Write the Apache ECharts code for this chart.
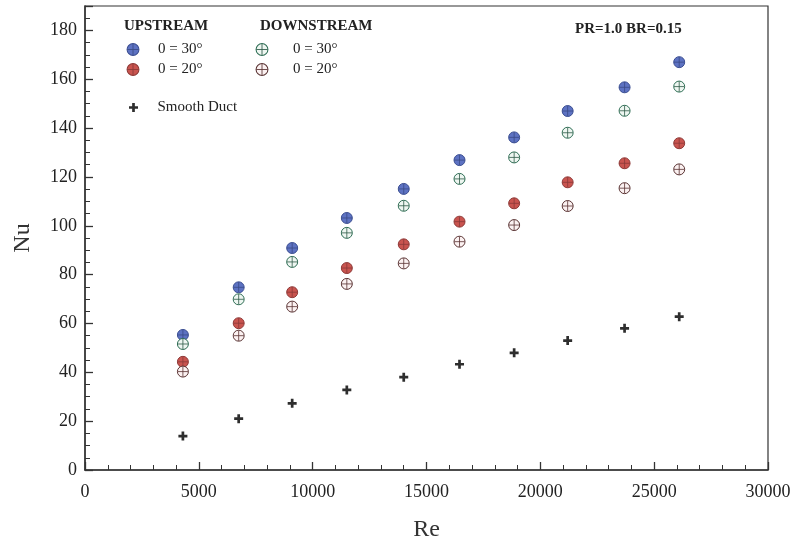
<!DOCTYPE html>
<html>
<head>
<meta charset="utf-8">
<script src="https://cdn.jsdelivr.net/npm/echarts@6/dist/echarts.min.js"></script>
<style>
  html, body { margin: 0; padding: 0; background: #ffffff; }
  #chart { width: 793px; height: 545px; }
</style>
</head>
<body>
<div id="chart"></div>
<script>
// Reynolds numbers of the test points
const reynolds = [4300, 6750, 9100, 11500, 14000, 16450, 18850, 21200, 23700, 26100];

// Nusselt numbers, rib placed upstream / downstream, two rib angles
const upstream30   = [55.3, 74.8, 90.9, 103.2, 115.1, 126.9, 136.2, 147.0, 156.7, 167.0];
const upstream20   = [44.3, 60.1, 72.8, 82.7, 92.4, 101.7, 109.2, 117.8, 125.6, 133.8];
const downstream30 = [51.6, 69.9, 85.2, 97.1, 108.2, 119.2, 128.0, 138.1, 147.1, 157.0];
const downstream20 = [40.3, 55.0, 66.9, 76.2, 84.6, 93.5, 100.3, 108.1, 115.4, 123.1];
const smoothDuct   = [13.9, 21.0, 27.3, 32.8, 38.0, 43.3, 48.0, 53.0, 58.0, 62.8];

// Axis ticks
const xTicks = { min: 0, max: 30000, step: 5000 };
const yTicks = { min: 0, max: 190, step: 20 };

const labels = {
  up30: '0 = 30°',
  up20: '0 = 20°',
  dn30: '0 = 30°',
  dn20: '0 = 20°',
  smooth: 'Smooth Duct'
};

const SERIF = '"Liberation Serif", "DejaVu Serif", serif';

// Circle-with-crosshair marker drawn as a small SVG
function crossCircle(fill, stroke, cross) {
  const svg =
    '<svg xmlns="http://www.w3.org/2000/svg" width="26" height="26" viewBox="0 0 26 26">' +
    '<circle cx="13" cy="13" r="11" fill="' + fill + '" stroke="' + stroke + '" stroke-width="2"/>' +
    '<line x1="13" y1="2.5" x2="13" y2="23.5" stroke="' + cross + '" stroke-width="1.6"/>' +
    '<line x1="2.5" y1="13" x2="23.5" y2="13" stroke="' + cross + '" stroke-width="1.6"/>' +
    '</svg>';
  return 'image://data:image/svg+xml;charset=utf-8,' + encodeURIComponent(svg);
}

const symUp30 = crossCircle('#5d72c2', '#3c4f92', '#3a4a86');
const symUp20 = crossCircle('#c9544f', '#8e3a38', '#8a3a38');
const symDn30 = crossCircle('#eef6f1', '#2f6e55', '#2f5a48');
const symDn20 = crossCircle('#fbf1f1', '#5a3434', '#5a3434');
const symPlus = 'path://M3.5,0H6.5V3.5H10V6.5H6.5V10H3.5V6.5H0V3.5H3.5Z';

function pairs(ys) {
  return reynolds.map((re, i) => [re, ys[i]]);
}

function scatter(key, ys, symbol, size) {
  return {
    name: key,
    type: 'scatter',
    data: pairs(ys),
    symbol: symbol,
    symbolSize: size,
    itemStyle: { color: '#2e2e2e', opacity: 1 },
    emphasis: { disabled: true },
    z: 3
  };
}

const legendText = {
  fontFamily: SERIF,
  fontSize: 15,
  color: '#222222'
};

const headerText = { fontFamily: SERIF, fontSize: 15, fontWeight: 'bold', color: '#222' };

const chart = echarts.init(document.getElementById('chart'), null, { renderer: 'canvas' });

chart.setOption({
  animation: false,
  backgroundColor: '#ffffff',
  grid: {
    left: 85, right: 25, top: 6, bottom: 75,
    outerBoundsMode: 'none',
    containLabel: false,
    show: true,
    borderColor: '#333333',
    borderWidth: 1.2,
    backgroundColor: 'transparent'
  },
  title: [
    { text: 'UPSTREAM', left: 119, top: 14, textStyle: headerText },
    { text: 'DOWNSTREAM', left: 255, top: 14, textStyle: headerText },
    { text: 'PR=1.0 BR=0.15', left: 570, top: 17, textStyle: headerText }
  ],
  legend: [
    {
      data: ['up30', 'up20'],
      orient: 'vertical', left: 108, top: 37,
      itemWidth: 40, itemHeight: 14, itemGap: 5,
      symbolKeepAspect: true,
      selectedMode: false,
      formatter: n => labels[n],
      textStyle: legendText
    },
    {
      data: ['dn30', 'dn20'],
      orient: 'vertical', left: 231, top: 37,
      itemWidth: 52, itemHeight: 14, itemGap: 5,
      symbolKeepAspect: true,
      selectedMode: false,
      formatter: n => labels[n],
      textStyle: legendText
    },
    {
      data: ['smooth'],
      orient: 'vertical', left: 124, top: 95,
      itemWidth: 38, itemHeight: 9,
      symbolKeepAspect: true,
      selectedMode: false,
      formatter: n => labels[n],
      textStyle: legendText
    }
  ],
  xAxis: {
    type: 'value',
    min: xTicks.min, max: xTicks.max, interval: xTicks.step,
    name: 'Re',
    nameLocation: 'middle',
    nameGap: 48,
    nameTextStyle: { fontFamily: SERIF, fontSize: 24, color: '#333' },
    axisLine: { show: true, lineStyle: { color: '#333333', width: 1.5 } },
    axisTick: { show: true, inside: true, length: 8, lineStyle: { color: '#333', width: 1.3 } },
    minorTick: { show: true, splitNumber: 5, length: 5, lineStyle: { color: '#333', width: 1 } },
    axisLabel: {
      fontFamily: SERIF, fontSize: 18, color: '#222', margin: 13,
      formatter: v => String(v)
    },
    splitLine: { show: false }
  },
  yAxis: {
    type: 'value',
    min: yTicks.min, max: yTicks.max, interval: yTicks.step,
    name: 'Nu',
    nameLocation: 'middle',
    nameGap: 50,
    nameRotate: 90,
    nameTextStyle: { fontFamily: SERIF, fontSize: 24, color: '#333' },
    axisLine: { show: true, lineStyle: { color: '#333333', width: 1.5 } },
    axisTick: { show: true, inside: true, length: 8, lineStyle: { color: '#333', width: 1.3 } },
    minorTick: { show: true, splitNumber: 4, length: 5, lineStyle: { color: '#333', width: 1 } },
    axisLabel: {
      fontFamily: SERIF, fontSize: 18, color: '#222', margin: 8,
      showMaxLabel: false,
      formatter: v => String(v)
    },
    splitLine: { show: false }
  },
  series: [
    scatter('up30', upstream30, symUp30, 13),
    scatter('up20', upstream20, symUp20, 13),
    scatter('dn30', downstream30, symDn30, 13),
    scatter('dn20', downstream20, symDn20, 13),
    scatter('smooth', smoothDuct, symPlus, 9)
  ]
});
</script>
</body>
</html>
